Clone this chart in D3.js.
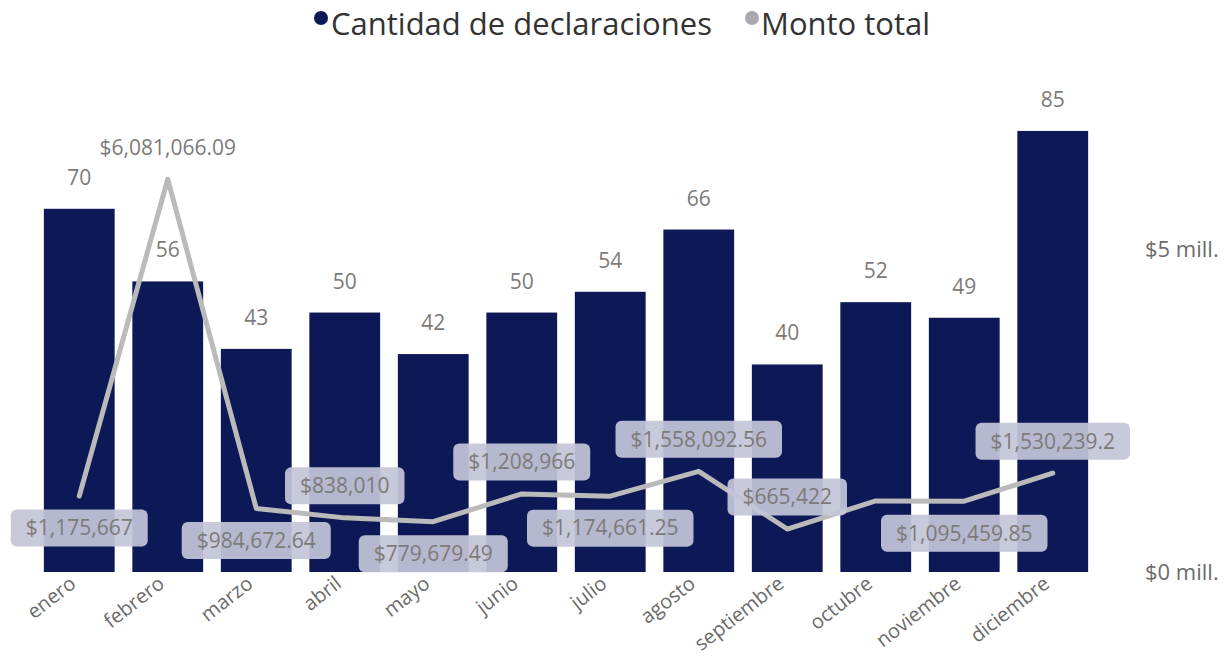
<!DOCTYPE html>
<html>
<head>
<meta charset="utf-8">
<script src="https://cdn.jsdelivr.net/npm/d3@7/dist/d3.min.js"></script>
<style>
  body { margin: 0; background: #fff; }
  svg { display: block; font-family: "Open Sans", sans-serif; }
</style>
</head>
<body>
<svg id="chart" width="1226" height="664"></svg>
<script>
    'use strict';

    var months = ['enero', 'febrero', 'marzo', 'abril', 'mayo', 'junio', 'julio',
        'agosto', 'septiembre', 'octubre', 'noviembre', 'diciembre'];
    var counts = [70, 56, 43, 50, 42, 50, 54, 66, 40, 52, 49, 85];
    var amounts = [1175667, 6081066.09, 984672.64, 838010, 779679.49, 1208966,
        1174661.25, 1558092.56, 665422, 1100000, 1095459.85, 1530239.2];
    var amountLabels = ['$1,175,667', '$6,081,066.09', '$984,672.64', '$838,010',
        '$779,679.49', '$1,208,966', '$1,174,661.25', '$1,558,092.56', '$665,422',
        null, '$1,095,459.85', '$1,530,239.2'];
    var rightTicks = [0, 5000000];
    var rightTickLabels = ['$0 mill.', '$5 mill.'];

    // where each amount label sits relative to its point
    var labelSide = ['below', 'above', 'below', 'above', 'below', 'above', 'below',
        'above', 'above', null, 'below', 'above'];

    (function() {
        var navy = '#0d1857';
        var lineGrey = '#bababa';
        var baseline = 572;
        var plotTop = 105;

        var svg = d3.select('#chart');

        var x = d3.scaleBand()
            .domain(months)
            .range([35, 1097])
            .paddingInner(0.2)
            .paddingOuter(0.1);

        var yCount = d3.scaleLinear()
            .domain([0, 90])
            .range([baseline, plotTop]);

        var yAmount = d3.scaleLinear()
            .domain([0, 7230000])
            .range([baseline, plotTop]);

        // bars
        svg.append('g')
            .selectAll('rect')
            .data(counts)
            .join('rect')
            .attr('x', function(d, i) { return x(months[i]); })
            .attr('y', function(d) { return yCount(d); })
            .attr('width', x.bandwidth())
            .attr('height', function(d) { return baseline - yCount(d); })
            .attr('fill', navy);

        // amount line
        var line = d3.line()
            .x(function(d, i) { return x(months[i]) + x.bandwidth() / 2; })
            .y(function(d) { return yAmount(d); });

        svg.append('path')
            .datum(amounts)
            .attr('d', line)
            .attr('fill', 'none')
            .attr('stroke', lineGrey)
            .attr('stroke-width', 5)
            .attr('stroke-linejoin', 'round')
            .attr('stroke-linecap', 'round');

        // amount labels with boxes
        var labelG = svg.append('g');
        amounts.forEach(function(v, i) {
            if (!amountLabels[i]) return;
            var cx = x(months[i]) + x.bandwidth() / 2;
            var cy = yAmount(v) + (labelSide[i] === 'above' ? -32 : 32);
            var g = labelG.append('g');
            var t = g.append('text')
                .attr('x', cx)
                .attr('y', cy)
                .attr('dy', '0.35em')
                .attr('text-anchor', 'middle')
                .attr('font-size', 21)
                .attr('fill', '#7d7a78')
                .text(amountLabels[i]);
            if (months[i] !== 'febrero') {
                var w = t.node().getComputedTextLength() + 30;
                g.insert('rect', 'text')
                    .attr('x', cx - w / 2)
                    .attr('y', cy - 18.5)
                    .attr('width', w)
                    .attr('height', 37)
                    .attr('rx', 6)
                    .attr('fill', '#c4c5d8')
                    .attr('fill-opacity', 0.93);
            }
        });

        // bar value labels
        svg.append('g')
            .selectAll('text')
            .data(counts)
            .join('text')
            .attr('x', function(d, i) { return x(months[i]) + x.bandwidth() / 2; })
            .attr('y', function(d) { return yCount(d) - 24; })
            .attr('text-anchor', 'middle')
            .attr('font-size', 21)
            .attr('fill', '#7d7a78')
            .text(function(d) { return d; });

        // x axis labels
        svg.append('g')
            .selectAll('text')
            .data(months)
            .join('text')
            .attr('transform', function(d) {
                return 'translate(' + (x(d) + x.bandwidth() / 2 - 2) + ',' + 586 + ') rotate(-38)';
            })
            .attr('text-anchor', 'end')
            .attr('font-size', 20)
            .attr('fill', '#6b6b6b')
            .text(function(d) { return d; });

        // right axis labels
        svg.append('g')
            .selectAll('text')
            .data(rightTicks)
            .join('text')
            .attr('x', 1145)
            .attr('y', function(d) { return yAmount(d); })
            .attr('dy', '0.35em')
            .attr('font-size', 22)
            .attr('fill', '#6b6b6b')
            .text(function(d, i) { return rightTickLabels[i]; });

        // legend
        var legend = svg.append('g').attr('transform', 'translate(0,24)');
        legend.append('circle').attr('cx', 321).attr('cy', -6).attr('r', 7).attr('fill', navy);
        legend.append('text').attr('x', 331).attr('y', 0).attr('dy', '0.35em')
            .attr('font-size', 31).attr('fill', '#333').text('Cantidad de declaraciones');
        legend.append('circle').attr('cx', 752).attr('cy', -6).attr('r', 7).attr('fill', '#a9a9ad');
        legend.append('text').attr('x', 761).attr('y', 0).attr('dy', '0.35em')
            .attr('font-size', 31).attr('fill', '#333').text('Monto total');
    })();
</script>
</body>
</html>
